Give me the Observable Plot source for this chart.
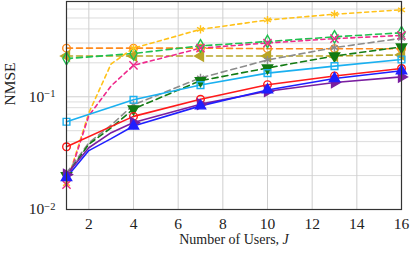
<!DOCTYPE html>
<html>
<head>
<meta charset="utf-8">
<script src="https://cdn.jsdelivr.net/npm/d3@7"></script>
<script src="https://cdn.jsdelivr.net/npm/@observablehq/plot@0.6"></script>
<style>
  html, body { margin: 0; padding: 0; background: #fff; }
  #chart { width: 415px; height: 254px; }
</style>
</head>
<body>
<div id="chart"></div>
<script>
// ---- data ----
const markerX = [1, 4, 7, 10, 13, 16];
const denseX  = [1, 2, 3, 4, 7, 10, 13, 16];

const orangeY = [0.27, 0.27, 0.27, 0.267, 0.267, 0.267];
const greenY  = [0.218, 0.242, 0.283, 0.309, 0.34, 0.37];
const oliveY  = [0.23, 0.23, 0.23, 0.23, 0.23, 0.235];
const yellowY = [0.017, 0.072, 0.196, 0.27, 0.396, 0.48, 0.54, 0.59];
const pinkY   = [0.0166, 0.068, 0.125, 0.19, 0.27, 0.30, 0.328, 0.35];
const grayY   = [0.021, 0.039, 0.056, 0.085, 0.147, 0.212, 0.273, 0.33];
const dgreenY = [0.020, 0.038, 0.053, 0.078, 0.139, 0.18, 0.23, 0.277];
const cyanY   = [0.06, 0.094, 0.127, 0.162, 0.187, 0.214];
const redY    = [0.036, 0.067, 0.095, 0.128, 0.153, 0.178];
const blueY   = [0.0192, 0.0333, 0.0425, 0.055, 0.083, 0.115, 0.145, 0.17];
const purpleY = [0.0204, 0.0353, 0.048, 0.059, 0.086, 0.112, 0.134, 0.15];

const xTicks = [2, 4, 6, 8, 10, 12, 14, 16];
const yTicks = [0.01, 0.1];
const yExponents = [-2, -1];
const yMinor = [0.02,0.03,0.04,0.05,0.06,0.07,0.08,0.09,0.2,0.3,0.4,0.5,0.6,0.7];
const xLabel = "Number of Users, ";
const xLabelVar = "J";
const yLabel = "NMSE";

// ---- series styles ----
const series = [
  {xs: markerX, ys: orangeY, color: "#ff8a1c", dash: "6,4", symbol: "circle", open: true},
  {xs: markerX, ys: oliveY,  color: "#b8a526", dash: "6,4", symbol: "triangle", rotate: -90},
  {xs: markerX, ys: greenY,  color: "#1fc04f", dash: "6,4", symbol: "diamond", open: true},
  {xs: denseX,  ys: yellowY, color: "#ffc21a", dash: "4,3.5", symbol: "asterisk", open: true},
  {xs: denseX,  ys: pinkY,   color: "#ee2a8c", dash: "4,3.5", symbol: "times", open: true},
  {xs: denseX,  ys: grayY,   color: "#8c8c8c", dash: "6,4", symbol: "asterisk", open: true},
  {xs: denseX,  ys: dgreenY, color: "#137a13", dash: "6,4", symbol: "triangle", rotate: 180},
  {xs: markerX, ys: cyanY,   color: "#1ab0f0", dash: null, symbol: "square", open: true},
  {xs: markerX, ys: redY,    color: "#ff1a1a", dash: null, symbol: "circle", open: true},
  {xs: denseX,  ys: purpleY, color: "#7a1fa0", dash: null, symbol: "triangle", rotate: 90},
  {xs: denseX,  ys: blueY,   color: "#1f1fff", dash: null, symbol: "triangle"}
];

const lineMarks = [];
const dotMarks = [];
series.forEach((s, i) => {
  const rows = s.xs.map((x, j) => ({x, y: s.ys[j], k: i}));
  lineMarks.push(Plot.line(rows, {
    x: "x", y: "y", stroke: s.color, strokeWidth: 1.6,
    strokeDasharray: s.dash || undefined
  }));
  const pts = rows.filter(d => markerX.includes(d.x));
  dotMarks.push(Plot.dot(pts, {
    x: "x", y: "y", symbol: s.symbol, r: 3.8,
    rotate: s.rotate || 0,
    fill: s.open ? "none" : s.color,
    stroke: s.color, strokeWidth: 1.4
  }));
});

const chart = Plot.plot({
  width: 415, height: 254,
  marginLeft: 66, marginRight: 14, marginTop: 1, marginBottom: 45,
  style: {fontFamily: "'Liberation Serif', 'DejaVu Serif', serif", fontSize: "15px", background: "#fff", color: "#222"},
  x: {domain: [1, 16]},
  y: {type: "log", domain: [0.01, 0.7]},
  marks: [
    Plot.gridY(yMinor, {stroke: "#dcdcdc", strokeOpacity: 1, strokeWidth: 1}),
    Plot.gridY(yTicks, {stroke: "#cfcfcf", strokeOpacity: 1, strokeWidth: 1}),
    Plot.gridX(xTicks, {stroke: "#cfcfcf", strokeOpacity: 1, strokeWidth: 1}),
    Plot.axisX(xTicks, {tickSize: 0, tickPadding: 8, fontSize: 15.5, label: null}),
    Plot.axisY(yTicks, {tickSize: 0, tickPadding: 11, fontSize: 15.5, label: null,
      tickFormat: d => "10"}),
    ...lineMarks,
    ...dotMarks,
    Plot.frame({stroke: "#333", strokeWidth: 1.2}),
    Plot.text([yLabel], {frameAnchor: "left", dx: -56, rotate: -90, fontSize: 15.5, className: "ylab"}),
    Plot.text([xLabel], {frameAnchor: "bottom", dy: 34, fontSize: 14, className: "xlab"})
  ]
});

document.getElementById("chart").appendChild(chart);

const sel = d3.select(chart);
// superscript exponents on the y tick labels
sel.selectAll('g[aria-label="y-axis tick label"] text').each(function(d, i) {
  const t = d3.select(this);
  t.text("10");
  t.append("tspan").attr("dy", "-0.45em").attr("font-size", "10.5px")
    .text("\u2212" + Math.abs(yExponents[i]));
});
// italic J in the x label
sel.selectAll('.xlab text').each(function() {
  d3.select(this).append("tspan").attr("font-style", "italic").text(xLabelVar);
});
</script>
</body>
</html>
